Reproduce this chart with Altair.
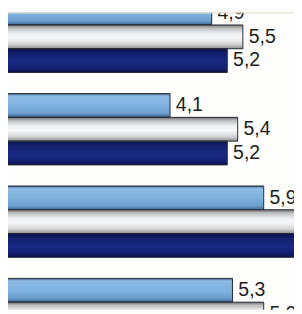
import altair as alt
import pandas as pd

groups = ["Grupa 1", "Grupa 2", "Grupa 3", "Grupa 4"]
series = ["Seria 1", "Seria 2", "Seria 3"]
light_vals = [4.9, 4.1, 5.9, 5.3]
white_vals = [5.5, 5.4, 6.7, 5.9]
dark_vals = [5.2, 5.2, 6.6, 5.6]

rows = []
for s, vals in zip(series, [light_vals, white_vals, dark_vals]):
    for g, v in zip(groups, vals):
        rows.append({"group": g, "series": s, "value": v})
df = pd.DataFrame(rows)

W, H = 294, 306

xscale = alt.Scale(domain=[0.987, 6.482], range=[0, W], zero=False, nice=False)
yscale = alt.Scale(domain=groups, range=[-11.3, 347], paddingInner=0.228, paddingOuter=0)
yoff = alt.Scale(domain=series, paddingInner=0, paddingOuter=0)

grads = {
    "Seria 1": [
        ("#3f5a78", 0.0), ("#8cbbe4", 0.1), ("#80b2df", 0.5),
        ("#6d9fcf", 0.82), ("#4f7aa6", 0.95), ("#2e3a48", 1.0)],
    "Seria 2": [
        ("#6a6a6a", 0.0), ("#b8b8b8", 0.12), ("#eceff2", 0.35),
        ("#f6f7f9", 0.55), ("#d6d6d6", 0.8), ("#8e8e8e", 1.0)],
    "Seria 3": [
        ("#0b1248", 0.0), ("#13206e", 0.2), ("#182884", 0.55),
        ("#13206f", 0.85), ("#0a1045", 1.0)],
}

base = alt.Chart(df).encode(
    y=alt.Y("group:N", scale=yscale, axis=None, sort=groups),
    yOffset=alt.YOffset("series:N", scale=yoff, sort=series),
)

layers = []
for s in series:
    grad = alt.Gradient(
        gradient="linear", x1=0, y1=0, x2=0, y2=1,
        stops=[alt.GradientStop(color=c, offset=o) for c, o in grads[s]],
    )
    layers.append(
        base.transform_filter(alt.datum.series == s)
        .mark_bar(fill=grad, stroke="#262c36", strokeWidth=1, clip=True)
        .encode(x=alt.X("value:Q", scale=xscale, axis=None), x2=alt.datum(0))
    )

labels = (
    base.transform_calculate(label="replace(format(datum.value, '.1f'), '.', ',')")
    .mark_text(align="left", baseline="middle", dx=6, fontSize=20,
               font="Liberation Sans", color="#1c1c1c", clip=True)
    .encode(x=alt.X("value:Q", scale=xscale, axis=None), text="label:N")
)

band = alt.Chart(pd.DataFrame({"a": [0]})).mark_rect(color="#e8e3d3").encode(
    x=alt.value(0), x2=alt.value(W), y=alt.value(0), y2=alt.value(1.3)
)

chart = (
    alt.layer(*layers, labels, band)
    .properties(width=W, height=H, background="#fdfdfb", padding=0,
                autosize=alt.AutoSizeParams(type="none"))
    .configure_view(stroke=None)
)

chart.save("out.html", embed_options={"renderer": "svg", "actions": False})
